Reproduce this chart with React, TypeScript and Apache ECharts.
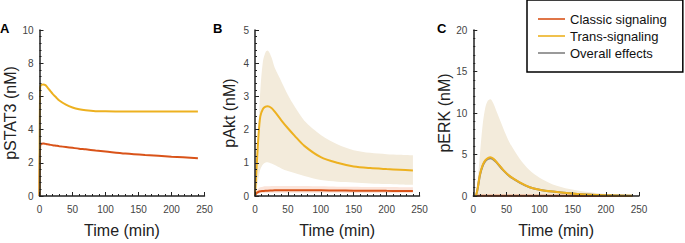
import React, { useEffect, useRef } from "react";
import * as echarts from "echarts";

// ---- Panel A: pSTAT3 ----
const tA = [0, 1, 3, 6, 9, 12, 16, 20, 25, 30, 40, 50, 60, 70, 85, 100, 130, 160, 200, 240];
const classicA = [0, 3.0, 3.15, 3.16, 3.14, 3.12, 3.09, 3.06, 3.03, 3.0, 2.95, 2.9, 2.85, 2.81, 2.74, 2.68, 2.56, 2.47, 2.37, 2.28];
const transA = [0, 6.55, 6.7, 6.72, 6.68, 6.55, 6.35, 6.15, 5.95, 5.75, 5.5, 5.33, 5.22, 5.16, 5.11, 5.1, 5.09, 5.09, 5.09, 5.09];

// ---- Panel B: pAkt ----
const tB = [0, 2, 5, 8, 12, 16, 19, 25, 30, 40, 50, 60, 75, 100, 125, 150, 175, 200, 220, 240];
const transB = [0, 0.7, 1.73, 2.39, 2.62, 2.69, 2.7, 2.65, 2.54, 2.28, 2.04, 1.82, 1.51, 1.17, 1.0, 0.89, 0.84, 0.81, 0.79, 0.77];
const transUpperB = [0, 0.9, 1.9, 3.15, 4.05, 4.33, 4.38, 4.18, 3.86, 3.45, 3.04, 2.7, 2.27, 1.84, 1.56, 1.38, 1.3, 1.26, 1.245, 1.23];
const transLowerB = [0, 0.2, 0.5, 0.8, 0.95, 1.01, 1.02, 0.98, 0.93, 0.83, 0.75, 0.69, 0.6, 0.48, 0.43, 0.41, 0.38, 0.36, 0.35, 0.34];
const classicB = [0, 0.08, 0.12, 0.14, 0.15, 0.16, 0.16, 0.165, 0.17, 0.17, 0.17, 0.17, 0.17, 0.17, 0.165, 0.16, 0.16, 0.155, 0.152, 0.15];
const classicUpperB = [0, 0.15, 0.22, 0.26, 0.28, 0.29, 0.29, 0.3, 0.3, 0.3, 0.3, 0.3, 0.3, 0.29, 0.28, 0.28, 0.27, 0.27, 0.265, 0.26];
const classicLowerB = [0, 0.04, 0.06, 0.08, 0.09, 0.1, 0.1, 0.1, 0.1, 0.1, 0.1, 0.1, 0.1, 0.1, 0.1, 0.09, 0.09, 0.09, 0.09, 0.09];

// ---- Panel C: pERK ----
const tC = [0, 3, 6, 10, 14, 18, 22, 26, 30, 35, 45, 55, 70, 85, 100, 120, 145, 170, 200, 240];
const transC = [0, 0, 0.7, 2.6, 3.7, 4.3, 4.57, 4.66, 4.5, 4.1, 3.15, 2.39, 1.63, 1.06, 0.76, 0.53, 0.32, 0.18, 0.08, 0.03];
const overallC = [0, 0, 0.65, 2.5, 3.6, 4.2, 4.47, 4.56, 4.42, 4.05, 3.12, 2.37, 1.62, 1.05, 0.76, 0.53, 0.32, 0.18, 0.08, 0.03];
const transUpperC = [0, 0.1, 1.5, 5.0, 8.5, 10.6, 11.5, 11.67, 11.2, 10.2, 8.2, 6.4, 4.5, 3.1, 2.2, 1.4, 0.85, 0.5, 0.25, 0.1];
const classicC = [0, 0.01, 0.02, 0.03, 0.04, 0.04, 0.04, 0.04, 0.04, 0.04, 0.04, 0.03, 0.03, 0.03, 0.02, 0.02, 0.02, 0.01, 0.01, 0.01];

// ---- axes ----
const xTicks = { min: 0, max: 250, interval: 50 };
const yA = { min: 0, max: 10, interval: 2, name: "pSTAT3 (nM)" };
const yB = { min: 0, max: 5, interval: 1, name: "pAkt (nM)" };
const yC = { min: 0, max: 20, interval: 5, name: "pERK (nM)" };
const legendNames = ["Classic signaling", "Trans-signaling", "Overall effects"];
const panelLetters = ["A", "B", "C"];

const RED = "#D95319";
const YELLOW = "#EDB120";
const GRAY = "#808080";
const BAND_Y = "#F3EBDB";
const BAND_R = "#FBE4DA";
const FONT = "Liberation Sans, Arial, Helvetica, sans-serif";

const zip = (t: number[], v: number[]) => t.map((x, i) => [x, v[i]]);

export default function App() {
  const ref = useRef<HTMLDivElement>(null);
  useEffect(() => {
    document.body.style.margin = "0";
    const chart = echarts.init(ref.current!, null, { renderer: "svg" });
    const grids = [
      { left: 39.5, top: 30, width: 165, height: 176 },
      { left: 255, top: 30, width: 164.5, height: 176 },
      { left: 473.3, top: 30, width: 165.7, height: 176 },
    ];
    const axisLine = { show: true, lineStyle: { color: "#222", width: 1.5 } };
    const axisTick = { show: true, inside: true, length: 4, lineStyle: { color: "#222", width: 1 } };
    const minorTick = { show: true, splitNumber: 5, length: 2, lineStyle: { color: "#222", width: 1 } };
    const xAxes = grids.map((_, i) => ({
      type: "value",
      gridIndex: i,
      z: 10,
      ...xTicks,
      axisLine,
      axisTick,
      minorTick,
      splitLine: { show: false },
      axisLabel: { fontSize: 10, color: "#444", margin: 8, fontFamily: FONT },
      name: "Time (min)",
      nameLocation: "middle",
      nameGap: 26,
      nameTextStyle: { fontSize: 16, color: "#222", fontFamily: FONT },
    }));
    const ys = [yA, yB, yC];
    const gaps = [16.5, 17.5, 20];
    const yAxes = ys.map((y, i) => ({
      type: "value",
      gridIndex: i,
      z: 10,
      min: y.min,
      max: y.max,
      interval: y.interval,
      axisLine,
      axisTick,
      minorTick,
      splitLine: { show: false },
      axisLabel: { fontSize: 10, color: "#444", margin: 6, fontFamily: FONT },
      name: y.name,
      nameLocation: "middle",
      nameGap: gaps[i],
      nameTextStyle: { fontSize: 16, color: "#222", fontFamily: FONT },
    }));
    const line = (name: string, idx: number, t: number[], v: number[], color: string, z = 3) => ({
      type: "line",
      name,
      xAxisIndex: idx,
      yAxisIndex: idx,
      data: zip(t, v),
      symbol: "none",
      smooth: 0.3,
      lineStyle: { color, width: 2 },
      itemStyle: { color },
      z,
      silent: true,
    });
    const area = (id: string, idx: number, t: number[], v: number[], color: string) => ({
      type: "line",
      name: id,
      xAxisIndex: idx,
      yAxisIndex: idx,
      data: zip(t, v),
      symbol: "none",
      smooth: 0.3,
      lineStyle: { opacity: 0, width: 0 },
      areaStyle: { color, opacity: 1 },
      z: 1,
      silent: true,
    });
    const option = {
      animation: false,
      textStyle: { fontFamily: FONT },
      grid: grids,
      xAxis: xAxes,
      yAxis: yAxes,
      legend: {
        data: legendNames,
        orient: "vertical",
        left: 527,
        top: 0,
        padding: [12, 16, 12, 11],
        itemGap: 3,
        itemWidth: 27,
        itemHeight: 1.6,
        icon: "rect",
        borderColor: "#000",
        borderWidth: 1.5,
        borderRadius: 0,
        backgroundColor: "#fff",
        selectedMode: false,
        textStyle: { fontSize: 13, lineHeight: 14, color: "#111", fontFamily: FONT },
      },
      graphic: panelLetters.map((l, i) => ({
        type: "text",
        left: [0, 213, 437][i],
        top: 22,
        style: { text: l, font: "bold 13px " + FONT, fill: "#000" },
      })),
      series: [
        line("Classic signaling", 0, tA, classicA, RED),
        line("Trans-signaling", 0, tA, transA, YELLOW, 4),
        area("bandBy-hi", 1, tB, transUpperB, BAND_Y),
        area("bandBy-lo", 1, tB, transLowerB, "#fff"),
        area("bandBr-hi", 1, tB, classicUpperB, BAND_R),
        area("bandBr-lo", 1, tB, classicLowerB, "#fff"),
        line("Classic signaling", 1, tB, classicB, RED),
        line("Trans-signaling", 1, tB, transB, YELLOW, 4),
        area("bandC", 2, tC, transUpperC, BAND_Y),
        line("Overall effects", 2, tC, overallC, GRAY, 2),
        line("Classic signaling", 2, tC, classicC, RED),
        line("Trans-signaling", 2, tC, transC, YELLOW, 4),
      ],
    };
    chart.setOption(option as any);
    return () => chart.dispose();
  }, []);
  return <div ref={ref} style={{ width: 685, height: 243 }} />;
}
